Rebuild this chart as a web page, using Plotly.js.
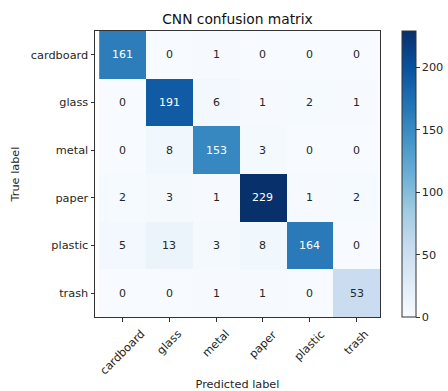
<!DOCTYPE html>
<html>
<head>
<meta charset="utf-8">
<script src="https://cdn.plot.ly/plotly-3.0.1.min.js"></script>
<style>html,body{margin:0;padding:0;background:#fff;}#chart{width:448px;height:391px;}</style>
</head>
<body>
<div id="chart"></div>
<script>
const classes = ["cardboard", "glass", "metal", "paper", "plastic", "trash"];
const row_cardboard = [161, 0, 1, 0, 0, 0];
const row_glass = [0, 191, 6, 1, 2, 1];
const row_metal = [0, 8, 153, 3, 0, 0];
const row_paper = [2, 3, 1, 229, 1, 2];
const row_plastic = [5, 13, 3, 8, 164, 0];
const row_trash = [0, 0, 1, 1, 0, 53];
const colorbarTicks = [0, 50, 100, 150, 200];

const z = [row_cardboard, row_glass, row_metal, row_paper, row_plastic, row_trash];
const zmax = Math.max(...z.flat());

const blues = [
  [0.0, '#f7fbff'], [0.125, '#deebf7'], [0.25, '#c6dbef'], [0.375, '#9ecae1'],
  [0.5, '#6baed6'], [0.625, '#4292c6'], [0.75, '#2171b5'], [0.875, '#08519c'], [1.0, '#08306b']
];

const FONT = 'DejaVu Sans, sans-serif';
const TXT = '#262626';
const annotations = [];
z.forEach((row, i) => row.forEach((v, j) => {
  annotations.push({
    x: classes[j], y: classes[i], xref: 'x', yref: 'y', text: String(v), showarrow: false,
    font: {family: FONT, size: 11, color: v > zmax / 2 ? '#ffffff' : TXT}
  });
}));
// x tick labels: rotated 45°, centred under each tick (matplotlib style)
classes.forEach(c => {
  annotations.push({
    x: c, xref: 'x', y: 0, yref: 'paper', yshift: -8, text: c, showarrow: false,
    textangle: -45, xanchor: 'center', yanchor: 'top',
    font: {family: FONT, size: 11.3, color: TXT}
  });
});

const trace = {
  type: 'heatmap', z: z, x: classes, y: classes, colorscale: blues, zmin: 0, zmax: zmax,
  colorbar: {
    x: 1.077, xanchor: 'left', xpad: 0, ypad: 0, y: 0.5, yanchor: 'middle',
    len: 1, lenmode: 'fraction', thickness: 14, thicknessmode: 'pixels',
    outlinewidth: 1, outlinecolor: '#333',
    tickvals: colorbarTicks, ticks: 'outside', ticklen: 3.5, tickcolor: '#333', tickwidth: 1,
    tickfont: {family: FONT, size: 11.3, color: TXT}
  }
};

const layout = {
  width: 448, height: 391,
  margin: {l: 95, r: 68, t: 31, b: 74, pad: 0, autoexpand: false},
  paper_bgcolor: '#fff', plot_bgcolor: '#fff',
  title: {text: 'CNN confusion matrix', font: {family: FONT, size: 13.8, color: '#111'},
          x: 0.5, xref: 'paper', xanchor: 'center', y: 1 - 19 / 391, yref: 'container', yanchor: 'middle'},
  xaxis: {
    type: 'category', showticklabels: false, ticks: 'outside', ticklen: 3.5, tickcolor: '#333',
    showline: true, mirror: true, linecolor: '#333', linewidth: 1, showgrid: false, zeroline: false,
    automargin: false,
    tickfont: {family: FONT, size: 11.3, color: TXT},
    title: {text: 'Predicted label', font: {family: FONT, size: 11.3, color: TXT}, standoff: 63}
  },
  yaxis: {
    type: 'category', autorange: 'reversed', ticks: 'outside', ticklen: 3.5, tickcolor: '#333',
    showline: true, mirror: true, linecolor: '#333', linewidth: 1, showgrid: false, zeroline: false,
    automargin: false,
    tickfont: {family: FONT, size: 11.3, color: TXT},
    title: {text: 'True label', font: {family: FONT, size: 11.3, color: TXT}, standoff: 8}
  },
  annotations: annotations
};

Plotly.newPlot('chart', [trace], layout, {displayModeBar: false, staticPlot: true});
</script>
</body>
</html>
